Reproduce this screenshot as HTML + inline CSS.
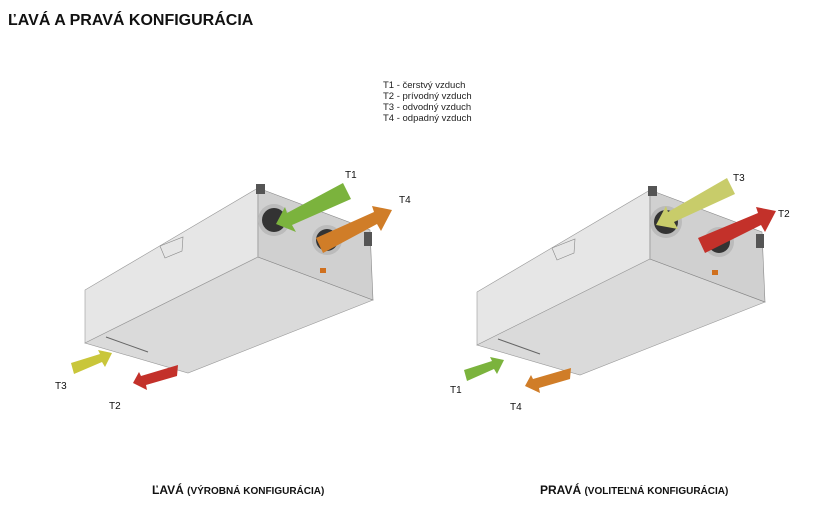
<!DOCTYPE html>
<html><head><meta charset="utf-8"><style>
body{margin:0;width:817px;height:512px;background:#fff;overflow:hidden;font-family:"Liberation Sans",sans-serif}
</style></head><body>
<svg width="817" height="512" xmlns="http://www.w3.org/2000/svg" font-family="Liberation Sans, sans-serif">
<text x="8" y="25" font-size="16" font-weight="bold" fill="#111">ĽAVÁ A PRAVÁ KONFIGURÁCIA</text>
<g font-size="9.5" fill="#222">
<text x="383" y="88">T1 - čerstvý vzduch</text>
<text x="383" y="99">T2 - prívodný vzduch</text>
<text x="383" y="110">T3 - odvodný vzduch</text>
<text x="383" y="121">T4 - odpadný vzduch</text>
</g>
<defs>
<g id="unit">
<polygon points="85,290 258,188 258,257 85,343" fill="#e6e6e6" stroke="#999" stroke-width="0.6"/>
<polygon points="85,343 258,257 373,300 188,373" fill="#dadada" stroke="#999" stroke-width="0.6"/>
<polygon points="258,188 370,230 373,300 258,257" fill="#d0d0d0" stroke="#888" stroke-width="0.6"/>
<line x1="106" y1="337" x2="148" y2="352" stroke="#666" stroke-width="1"/>
<polygon points="160,246 183,237 182,251 165,258" fill="none" stroke="#888" stroke-width="0.6"/>
<rect x="256" y="184" width="9" height="10" fill="#555"/>
<rect x="364" y="232" width="8" height="14" fill="#555"/>
<circle cx="274" cy="220" r="16" fill="#bbb"/><circle cx="274" cy="220" r="12" fill="#333"/>
<circle cx="327" cy="240" r="15" fill="#bbb"/><circle cx="327" cy="240" r="11" fill="#333"/>
<rect x="320" y="268" width="6" height="5" fill="#d0701e"/>
</g>
</defs>
<use href="#unit"/>
<use href="#unit" transform="translate(392,2)"/>
<g stroke-linejoin="round">
<polygon points="343,183 351,199 292,225 296,232 276,224 285,207 287,213" fill="#7bb33d"/>
<polygon points="316,238 323,253 377,224 381,231 392,210 372,206 374,212" fill="#d07d28"/>
<polygon points="71,363 74,374 102,362 105,367 112,353 98,350 100,354" fill="#c9c63a"/>
<polygon points="178,365 177,376 146,385 147,390 133,383 139,372 141,376" fill="#c3312a"/>
<polygon points="727,178 735,194 674,222 678,229 656,225 666,206 668,212" fill="#c8cc6a"/>
<polygon points="698,238 705,253 761,225 765,232 776,211 756,207 758,213" fill="#c3312a"/>
<polygon points="464,370 467,381 494,369 497,374 504,360 490,357 492,361" fill="#7bb33d"/>
<polygon points="571,368 570,379 539,388 540,393 525,386 531,375 533,379" fill="#d07d28"/>
</g>
<g font-size="10" fill="#111">
<text x="345" y="178">T1</text><text x="399" y="203">T4</text>
<text x="55" y="389">T3</text><text x="109" y="409">T2</text>
<text x="733" y="181">T3</text><text x="778" y="217">T2</text>
<text x="450" y="393">T1</text><text x="510" y="410">T4</text>
</g>
<text x="152" y="494" font-size="12" font-weight="bold" fill="#111">ĽAVÁ <tspan font-size="10">(VÝROBNÁ KONFIGURÁCIA)</tspan></text>
<text x="540" y="494" font-size="12" font-weight="bold" fill="#111">PRAVÁ <tspan font-size="10">(VOLITEĽNÁ KONFIGURÁCIA)</tspan></text>
</svg>
</body></html>
